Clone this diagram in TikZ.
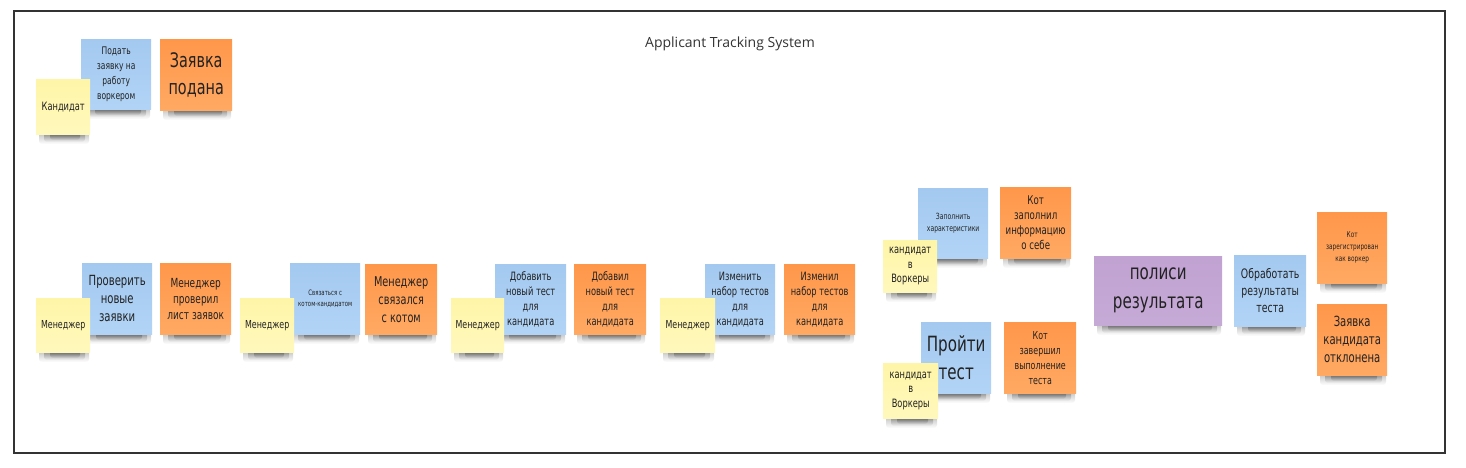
\documentclass[tikz,border=0pt]{standalone}
\usepackage{fontspec}
\setmainfont{Open Sans}
\newfontfamily\hand{DejaVu Sans}[FakeStretch=0.72]
\newfontfamily\osans{Open Sans}
\usetikzlibrary{fadings}
\definecolor{yelA}{HTML}{FFF5A8}
\definecolor{yelB}{HTML}{FFF8BC}
\definecolor{bluA}{HTML}{A4C9F0}
\definecolor{bluB}{HTML}{B1D4F6}
\definecolor{orA}{HTML}{FF974A}
\definecolor{orB}{HTML}{FFA963}
\definecolor{purA}{HTML}{C1A2D2}
\definecolor{purB}{HTML}{C6AAD6}
\definecolor{ink}{HTML}{222222}
\definecolor{framec}{HTML}{333333}
\tikzset{
  note/.style={anchor=north west, inner sep=0pt, align=center, text=ink},
  yel/.style={note, top color=yelA, bottom color=yelB},
  blu/.style={note, top color=bluA, bottom color=bluB},
  ora/.style={note, top color=orA, bottom color=orB},
  pur/.style={note, top color=purA, bottom color=purB},
  shadowc/.style={fill=black, opacity=#1, path fading=south, rounded corners=3pt},
  shadowc/.default=0.2
}
% #1 name, #2 style, #3 x0, #4 y0, #5 x1, #6 y1, #7 size, #8 baselineskip, #9 text
\newcommand\stick[9]{%
  \fill[shadowc=0.25] (#3+3,#6-2) rectangle (#5-1,#6+10);
  \fill[shadowc=0.32] (#3+8,#6-2) rectangle (#5-5,#6+8);
  \fill[shadowc=0.38] (#3+14,#6-2) rectangle (#5-10,#6+6);
  \node[#2, minimum width=#5-#3, minimum height=#6-#4,
        font={\hand\fontsize{#7}{#8}\selectfont}] (#1) at (#3,#4) {#9};
}
\begin{document}
\begin{tikzpicture}[x=1pt,y=-1pt]
\useasboundingbox (0,0) rectangle (1466,468);
\draw[line width=1.6pt, framec] (14,11) rectangle (1445,453);
\node[font={\osans\fontsize{14}{16}\selectfont}, text=framec] (title) at (730,44) {Applicant Tracking System};

% top group
\stick{n1}{blu}{81}{39}{151}{109}{10.5}{15}{Подать\\заявку на\\работу\\воркером}
\stick{n2}{ora}{160}{39}{232}{110}{20}{27}{Заявка\\подана}
\stick{n3}{yel}{36}{79}{90}{134}{11.5}{14}{Кандидат}

% row
\stick{n4}{blu}{82}{263}{152}{334}{14}{18}{Проверить\\новые\\заявки}
\stick{n5}{ora}{160}{263}{231}{334}{12.5}{16}{Менеджер\\проверил\\лист заявок}
\stick{n6}{yel}{36}{298}{90}{352}{11}{14}{Менеджер}

\stick{n7}{blu}{290}{263}{360}{334}{7.5}{11}{Связаться с\\котом-кандидатом}
\stick{n8}{ora}{365}{264}{437}{334}{13.5}{18}{Менеджер\\связался\\с котом}
\stick{n9}{yel}{240}{298}{294}{352}{11}{14}{Менеджер}

\stick{n10}{blu}{495}{264}{566}{334}{11.5}{15}{Добавить\\новый тест\\для\\кандидата}
\stick{n11}{ora}{574}{264}{646}{334}{11.5}{15}{Добавил\\новый тест\\для\\кандидата}
\stick{n12}{yel}{451}{298}{504}{352}{11}{14}{Менеджер}

\stick{n13}{blu}{705}{264}{775}{334}{11.5}{15}{Изменить\\набор тестов\\для\\кандидата}
\stick{n14}{ora}{784}{264}{855}{334}{11.5}{15}{Изменил\\набор тестов\\для\\кандидата}
\stick{n15}{yel}{660}{298}{715}{352}{11}{14}{Менеджер}

% worker group
\stick{n16}{blu}{918}{188}{988}{258}{8.5}{12}{Заполнить\\характеристики}
\stick{n17}{ora}{1000}{187}{1071}{258}{12}{15}{Кот\\заполнил\\информацию\\о себе}
\stick{n18}{yel}{883}{240}{937}{292}{11.5}{14.5}{кандидат\\в\\Воркеры}

\stick{n19}{blu}{921}{322}{991}{393}{21}{28}{Пройти\\тест}
\stick{n20}{ora}{1004}{322}{1076}{393}{11}{15}{Кот\\завершил\\выполнение\\теста}
\stick{n21}{yel}{883}{363}{938}{418}{11.5}{14.5}{кандидат\\в\\Воркеры}

\stick{n22}{pur}{1094}{256}{1222}{325}{21}{29}{полиси\\результата}
\stick{n23}{blu}{1234}{255}{1306}{326}{13}{17}{Обработать\\результаты\\теста}
\stick{n24}{ora}{1317}{212}{1387}{283}{8}{12}{Кот\\зарегистрирован\\как воркер}
\stick{n25}{ora}{1317}{304}{1387}{375}{14}{18}{Заявка\\кандидата\\отклонена}
\end{tikzpicture}
\end{document}
